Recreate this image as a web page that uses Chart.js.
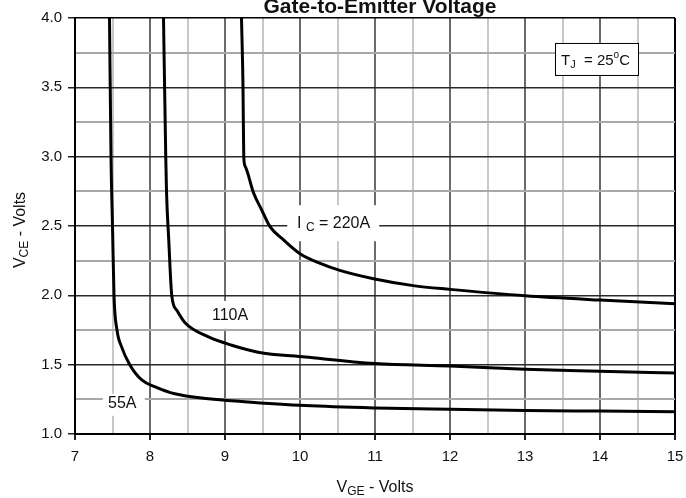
<!DOCTYPE html>
<html>
<head>
<meta charset="utf-8">
<script src="https://cdn.jsdelivr.net/npm/chart.js@4"></script>
<style>
  html, body { margin: 0; padding: 0; background: #fff; }
  canvas { display: block; }
</style>
</head>
<body>
<canvas id="chart" width="686" height="498"></canvas>
<script>
// V_CE vs V_GE at TJ = 25C, three collector currents
const xTicks = [7, 8, 9, 10, 11, 12, 13, 14, 15];
const yTicks = [1.0, 1.5, 2.0, 2.5, 3.0, 3.5, 4.0];

const vge55 = [7.46, 7.48, 7.50, 7.52, 7.56, 7.62, 7.73, 7.89, 8.07, 8.33, 8.78, 9.22, 10.07, 11.0, 12.0, 13.0, 14.0, 15.0];
const vce55 = [4.0, 3.0, 2.5, 2.0, 1.75, 1.63, 1.5, 1.39, 1.34, 1.29, 1.255, 1.235, 1.205, 1.188, 1.178, 1.17, 1.165, 1.16];

const vge110 = [8.18, 8.21, 8.22, 8.25, 8.29, 8.36, 8.47, 8.78, 9.09, 9.44, 10.07, 11.0, 12.0, 13.0, 14.0, 15.0];
const vce110 = [4.0, 3.0, 2.75, 2.4, 2.0, 1.89, 1.80, 1.70, 1.64, 1.59, 1.555, 1.508, 1.49, 1.467, 1.453, 1.44];

const vge220 = [9.22, 9.24, 9.25, 9.27, 9.38, 9.49, 9.60, 9.78, 10.0, 10.27, 10.53, 10.98, 11.51, 12.0, 13.0, 14.0, 15.0];
const vce220 = [4.0, 3.5, 3.0, 2.93, 2.74, 2.615, 2.495, 2.40, 2.30, 2.23, 2.18, 2.12, 2.07, 2.043, 1.997, 1.966, 1.94];

const FONT = 'Arial, "Liberation Sans", sans-serif';

function toPoints(xs, ys) {
  return xs.map((x, i) => ({ x: x, y: ys[i] }));
}

function curve(label, xs, ys) {
  return {
    label: label,
    data: toPoints(xs, ys),
    showLine: true,
    borderColor: '#000',
    borderWidth: 3,
    pointRadius: 0,
    fill: false,
    cubicInterpolationMode: 'monotone',
  };
}

// text runs with sub/superscripts
function richWidth(ctx, parts) {
  let w = 0;
  parts.forEach((p) => {
    ctx.font = (p.bold ? 'bold ' : '') + p.size + 'px ' + FONT;
    w += ctx.measureText(p.t).width;
  });
  return w;
}

function drawRich(ctx, parts, x, y, align) {
  let start = x;
  const w = richWidth(ctx, parts);
  if (align === 'center') start = x - w / 2;
  ctx.textAlign = 'left';
  ctx.textBaseline = 'alphabetic';
  parts.forEach((p) => {
    ctx.font = (p.bold ? 'bold ' : '') + p.size + 'px ' + FONT;
    ctx.fillText(p.t, start, y + (p.dy || 0));
    start += ctx.measureText(p.t).width;
  });
  return w;
}

const textPlugin = {
  id: 'texts',
  beforeDatasetsDraw(chart) {
    const ctx = chart.ctx;
    const xs = chart.scales.x;
    const ys = chart.scales.y;
    ctx.save();
    ctx.fillStyle = '#fff';
    // white masks behind curve labels
    ctx.fillRect(xs.getPixelForValue(9.83), ys.getPixelForValue(2.65), 92, 36);
    ctx.fillRect(xs.getPixelForValue(8.8), ys.getPixelForValue(1.96), 44, 28);
    ctx.fillRect(xs.getPixelForValue(7.37), ys.getPixelForValue(1.29), 42, 22);
    ctx.restore();
  },
  afterDraw(chart) {
    const ctx = chart.ctx;
    const area = chart.chartArea;
    const xs = chart.scales.x;
    const ys = chart.scales.y;
    ctx.save();
    ctx.fillStyle = '#111';

    // title (partly above the canvas edge)
    drawRich(ctx, [{ t: 'Gate-to-Emitter Voltage', size: 21, bold: true }], 380, 13, 'center');

    // axis titles
    drawRich(ctx, [
      { t: 'V', size: 16 },
      { t: 'GE', size: 12, dy: 3 },
      { t: ' - Volts', size: 16 },
    ], (area.left + area.right) / 2, 492, 'center');

    ctx.save();
    ctx.translate(25, (area.top + area.bottom) / 2 + 4);
    ctx.rotate(-Math.PI / 2);
    drawRich(ctx, [
      { t: 'V', size: 16 },
      { t: 'CE', size: 12, dy: 3 },
      { t: ' - Volts', size: 16 },
    ], 0, 0, 'center');
    ctx.restore();

    // curve labels
    drawRich(ctx, [
      { t: 'I ', size: 16 },
      { t: 'C', size: 12, dy: 3 },
      { t: ' = 220A', size: 16 },
    ], 297, 228, 'left');
    drawRich(ctx, [{ t: '110A', size: 16 }], 212, 320, 'left');
    drawRich(ctx, [{ t: '55A', size: 16 }], 108, 408, 'left');

    // junction temperature box
    const bx = xs.getPixelForValue(13.4);
    const by = ys.getPixelForValue(3.82);
    const bw = 83;
    const bh = 32;
    ctx.fillStyle = '#fff';
    ctx.fillRect(bx, by, bw, bh);
    ctx.strokeStyle = '#000';
    ctx.lineWidth = 1;
    ctx.strokeRect(bx + 0.5, by + 0.5, bw, bh);
    ctx.fillStyle = '#111';
    drawRich(ctx, [
      { t: 'T', size: 15 },
      { t: 'J', size: 11, dy: 3 },
      { t: '  = 25', size: 15 },
      { t: 'o', size: 10, dy: -7 },
      { t: 'C', size: 15 },
    ], bx + 6, by + 22, 'left');
    ctx.restore();
  },
};

function xGridColor(ctx) {
  const v = ctx.tick.value;
  if (v === 15) return '#000';
  return v % 1 === 0 ? '#6a6a6a' : '#c8c8c8';
}

function yGridColor(ctx) {
  const v = ctx.tick.value;
  if (v === 4) return '#000';
  return v % 0.5 === 0 ? '#2a2a2a' : '#a8a8a8';
}

new Chart(document.getElementById('chart'), {
  type: 'scatter',
  data: {
    datasets: [
      curve('55A', vge55, vce55),
      curve('110A', vge110, vce110),
      curve('220A', vge220, vce220),
    ],
  },
  options: {
    responsive: false,
    animation: false,
    layout: { padding: { top: 18, right: 11, left: 0, bottom: 0 } },
    plugins: {
      legend: { display: false },
      tooltip: { enabled: false },
      title: { display: false },
    },
    scales: {
      x: {
        type: 'linear',
        min: xTicks[0],
        max: xTicks[xTicks.length - 1],
        afterFit: (scale) => {
          scale.height = 64;
          scale.paddingLeft = 0;
          scale.paddingRight = 0;
        },
        ticks: {
          stepSize: 0.5,
          autoSkip: false,
          maxRotation: 0,
          padding: 8,
          color: '#111',
          font: { family: FONT, size: 15 },
          callback: (v) => (xTicks.includes(v) ? String(v) : ''),
        },
        grid: {
          color: xGridColor,
          lineWidth: 2,
          tickLength: 6,
          tickColor: (ctx) => (ctx.tick.value % 1 === 0 ? '#222' : 'rgba(0,0,0,0)'),
        },
        border: { color: '#000', width: 2 },
      },
      y: {
        type: 'linear',
        min: yTicks[0],
        max: yTicks[yTicks.length - 1],
        afterFit: (scale) => {
          scale.width = 75;
          scale.paddingTop = 0;
          scale.paddingBottom = 0;
        },
        ticks: {
          stepSize: 0.25,
          autoSkip: false,
          padding: 6,
          color: '#111',
          font: { family: FONT, size: 15 },
          callback: (v) => (yTicks.includes(v) ? v.toFixed(1) : ''),
        },
        grid: {
          color: yGridColor,
          lineWidth: (ctx) => (ctx.tick.value % 0.5 === 0 ? 1.5 : 2),
          tickLength: 7,
          tickColor: (ctx) => (ctx.tick.value % 0.5 === 0 ? '#222' : 'rgba(0,0,0,0)'),
        },
        border: { color: '#000', width: 2 },
      },
    },
  },
  plugins: [textPlugin],
});
</script>
</body>
</html>
